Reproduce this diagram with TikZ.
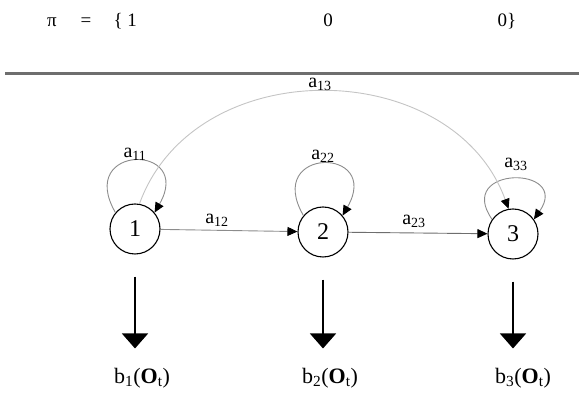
\documentclass[tikz,border=0pt]{standalone}
\usepackage{fontspec}
\setmainfont{Liberation Serif}
\usetikzlibrary{arrows.meta}
\definecolor{loop-gray}{HTML}{8C8C8C}
\definecolor{arc-gray}{HTML}{C4C4C4}
\definecolor{rule-gray}{HTML}{6E6E6E}

\begin{document}
\begin{tikzpicture}[x=1pt, y=1pt,
    state/.style={draw, circle, line width=1.1pt, minimum size=50pt, inner sep=0pt,
                  font=\fontsize{24}{26}\selectfont},
    trans/.style={line width=0.9pt, -{Triangle[black, length=10pt, width=9pt]}},
    emit/.style={line width=1.4pt, -{Triangle[length=15pt, width=26pt]},
                 shorten <=22pt, shorten >=16pt},
    lbl/.style={font=\fontsize{20}{22}\selectfont},
    obs/.style={font=\fontsize{22}{24}\selectfont},
    top/.style={font=\fontsize{19}{21}\selectfont, anchor=base}]
    \useasboundingbox (0,0) rectangle (579,403);

    % initial distribution
    \node[top] (pi) at (52,376) {π};
    \node[top] (eq) at (86,376) {=};
    \node[top, anchor=base west] (p1) at (110,376) {\{ 1};
    \node[top] (p2) at (328,376) {0};
    \node[top, anchor=base west] (p3) at (494,376) {0\}};
    \draw[line width=3pt, rule-gray] (5,329) -- (579,329);

    % states
    \node[state] (s1) at (135,174) {1};
    \node[state] (s2) at (323,171) {2};
    \node[state] (s3) at (513,169) {3};

    % transitions
    \draw[trans, color=loop-gray] (s1.140) .. controls +(120:80) and +(60:80) .. (s1.40);
    \draw[trans, color=loop-gray] (s2.140) .. controls +(120:80) and +(60:80) .. (s2.40);
    \draw[trans, color=loop-gray] (s3.145) .. controls +(125:66) and +(55:66) .. (s3.35);
    \draw[trans, color=loop-gray] (s1) -- (s2);
    \draw[trans, color=rule-gray] (s2) -- (s3);
    \draw[trans, color=arc-gray] (s1.80) .. controls +(70:163) and +(110:163) .. (s3.100);

    \node[lbl] (a11) at (135,249) {a\textsubscript{11}};
    \node[lbl] (a22) at (323,247) {a\textsubscript{22}};
    \node[lbl] (a33) at (516,239) {a\textsubscript{33}};
    \node[lbl] (a12) at (217,183) {a\textsubscript{12}};
    \node[lbl] (a23) at (414,182) {a\textsubscript{23}};
    \node[lbl] (a13) at (320,319) {a\textsubscript{13}};

    % emissions
    \node[obs] (b1) at (142,25) {b\textsubscript{1}(\textbf{O}\textsubscript{t})};
    \node[obs] (b2) at (330,25) {b\textsubscript{2}(\textbf{O}\textsubscript{t})};
    \node[obs] (b3) at (523,25) {b\textsubscript{3}(\textbf{O}\textsubscript{t})};
    \draw[emit] (s1.south) -- (s1.south |- b1.north);
    \draw[emit] (s2.south) -- (s2.south |- b2.north);
    \draw[emit] (s3.south) -- (s3.south |- b3.north);
\end{tikzpicture}
\end{document}
